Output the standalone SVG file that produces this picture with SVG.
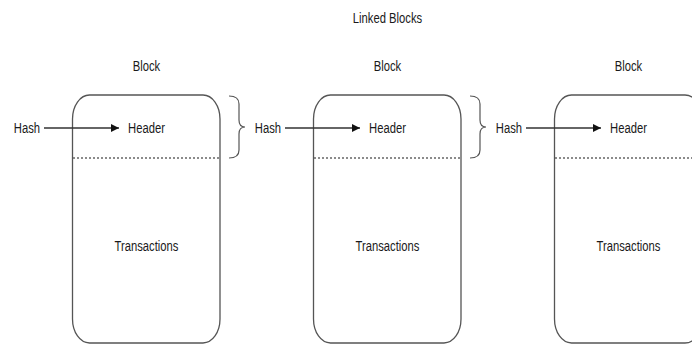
<svg xmlns="http://www.w3.org/2000/svg" width="692" height="345" viewBox="0 0 692 345">
<defs>
<style>
.t{font-family:"Liberation Sans",Arial,sans-serif;font-size:15px;fill:#1a1a1a;text-anchor:middle}
.box{fill:#fff;stroke:#555;stroke-width:1.3}
.dot{stroke:#666;stroke-width:1.5;stroke-dasharray:2 2;fill:none}
.ln{stroke:#333;stroke-width:1.3;fill:none}
.br{stroke:#555;stroke-width:1.2;fill:none}
</style>
<marker id="ah" viewBox="0 0 10 10" refX="10" refY="5" markerWidth="8" markerHeight="8" markerUnits="userSpaceOnUse" orient="auto">
<path d="M0,0 L10,5 L0,10 z" fill="#111"/>
</marker>
</defs>
<rect width="692" height="345" fill="#fff"/>
<text class="t" transform="translate(387.5,22.5) scale(0.75,1)">Linked Blocks</text>
<g id="block1">
<text class="t" transform="translate(146.5,70.5) scale(0.75,1)">Block</text>
<rect class="box" x="72.5" y="95" width="147.5" height="248" rx="17" ry="24"/>
<line class="dot" x1="73" y1="158" x2="220" y2="158"/>
<text class="t" transform="translate(146.5,133) scale(0.75,1)">Header</text>
<text class="t" transform="translate(146.5,250.5) scale(0.75,1)">Transactions</text>
</g>
<g id="block2">
<text class="t" transform="translate(387.5,70.5) scale(0.75,1)">Block</text>
<rect class="box" x="313.5" y="95" width="147.5" height="248" rx="17" ry="24"/>
<line class="dot" x1="314" y1="158" x2="461" y2="158"/>
<text class="t" transform="translate(387.5,133) scale(0.75,1)">Header</text>
<text class="t" transform="translate(387.5,250.5) scale(0.75,1)">Transactions</text>
</g>
<g id="block3">
<text class="t" transform="translate(628.5,70.5) scale(0.75,1)">Block</text>
<rect class="box" x="554.5" y="95" width="147.5" height="248" rx="17" ry="24"/>
<line class="dot" x1="555" y1="158" x2="702" y2="158"/>
<text class="t" transform="translate(628.5,133) scale(0.75,1)">Header</text>
<text class="t" transform="translate(628.5,250.5) scale(0.75,1)">Transactions</text>
</g>
<g id="hash1"><text class="t" transform="translate(27,133) scale(0.75,1)">Hash</text></g>
<g id="hash2"><text class="t" transform="translate(268,133) scale(0.75,1)">Hash</text></g>
<g id="hash3"><text class="t" transform="translate(509,133) scale(0.75,1)">Hash</text></g>
<g id="brace1"><path class="br" d="M229,96 Q239,96 239,104 L239,120 Q239,127 245,127 Q239,127 239,134 L239,150 Q239,158 229,158"/></g>
<g id="brace2"><path class="br" d="M470,96 Q480,96 480,104 L480,120 Q480,127 486,127 Q480,127 480,134 L480,150 Q480,158 470,158"/></g>
<g id="connectors">
<line class="ln" x1="44" y1="128" x2="119" y2="128" marker-end="url(#ah)"/>
<line class="ln" x1="285" y1="128" x2="360" y2="128" marker-end="url(#ah)"/>
<line class="ln" x1="526" y1="128" x2="601" y2="128" marker-end="url(#ah)"/>
</g>
</svg>
